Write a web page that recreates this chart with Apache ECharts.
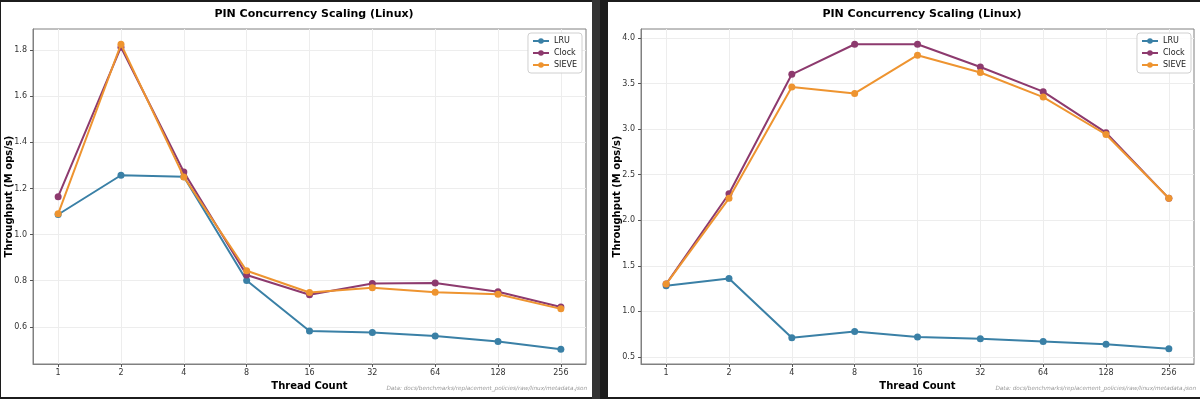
<!DOCTYPE html>
<html>
<head>
<meta charset="utf-8">
<script src="https://cdn.jsdelivr.net/npm/echarts@6/dist/echarts.min.js"></script>
<style>
  html, body { margin: 0; padding: 0; background: #1c1c1c; }
  #chart { width: 1200px; height: 399px; }
</style>
</head>
<body>
<div id="chart"></div>
<script>
// thread counts (x), plotted on a log2 position
const threads = [1, 2, 4, 8, 16, 32, 64, 128, 256];
const seriesNames = ['LRU', 'Clock', 'SIEVE'];

// left panel
const leftLru   = [1.087, 1.257, 1.251, 0.801, 0.582, 0.576, 0.560, 0.537, 0.503];
const leftClock = [1.164, 1.812, 1.271, 0.825, 0.739, 0.788, 0.790, 0.752, 0.686];
const leftSieve = [1.090, 1.825, 1.250, 0.843, 0.749, 0.770, 0.750, 0.741, 0.678];
const leftYTicks = [0.6, 0.8, 1.0, 1.2, 1.4, 1.6, 1.8];

// right panel
const rightLru   = [1.28, 1.36, 0.71, 0.78, 0.72, 0.70, 0.67, 0.64, 0.59];
const rightClock = [1.30, 2.29, 3.60, 3.93, 3.93, 3.68, 3.41, 2.96, 2.24];
const rightSieve = [1.30, 2.24, 3.46, 3.39, 3.81, 3.62, 3.35, 2.94, 2.24];
const rightYTicks = [0.5, 1.0, 1.5, 2.0, 2.5, 3.0, 3.5, 4.0];

const titleText = 'PIN Concurrency Scaling (Linux)';
const footText = 'Data: docs/benchmarks/replacement_policies/raw/linux/metadata.json';

const colors = ['#3a80a6', '#8d3a6e', '#ee9430'];
const font = 'DejaVu Sans';
const xPos = threads.map((t, i) => i);

const chart = echarts.init(document.getElementById('chart'));

function pts(values) {
    return values.map((v, i) => [xPos[i], v]);
}

function makeX(gridIndex) {
    return {
        type: 'value',
        gridIndex: gridIndex,
        min: -0.4,
        max: 8.4,
        name: 'Thread Count',
        nameLocation: 'middle',
        nameGap: 13,
        nameTextStyle: { fontFamily: font, fontWeight: 'bold', fontSize: 10, color: '#000' },
        axisLine: { show: true, onZero: false, lineStyle: { color: '#808080', width: 1 } },
        axisTick: { show: true, length: 3, customValues: xPos, lineStyle: { color: '#555' } },
        axisLabel: {
            customValues: xPos,
            formatter: v => String(threads[Math.round(v)]),
            fontFamily: font, fontSize: 8, color: '#333', margin: 5
        },
        splitLine: { show: true, lineStyle: { color: '#ededed', width: 1 } }
    };
}

function makeY(gridIndex, min, max, ticks) {
    return {
        type: 'value',
        gridIndex: gridIndex,
        min: min,
        max: max,
        name: 'Throughput (M ops/s)',
        nameLocation: 'middle',
        nameRotate: 90,
        nameGap: 19,
        nameMoveOverlap: false,
        nameTextStyle: { fontFamily: font, fontWeight: 'bold', fontSize: 10, color: '#000' },
        axisLine: { show: true, onZero: false, lineStyle: { color: '#808080', width: 1 } },
        axisTick: { show: true, length: 3, customValues: ticks, lineStyle: { color: '#555' } },
        axisLabel: {
            customValues: ticks,
            formatter: v => v.toFixed(1),
            fontFamily: font, fontSize: 8, color: '#333', margin: 6
        },
        splitLine: { show: true, lineStyle: { color: '#ededed', width: 1 } }
    };
}

function makeSeries(name, values, idx, gridIndex) {
    return {
        type: 'line',
        name: name,
        xAxisIndex: gridIndex,
        yAxisIndex: gridIndex,
        data: pts(values),
        symbol: 'circle',
        symbolSize: 7,
        showSymbol: true,
        animation: false,
        lineStyle: { width: 2, color: colors[idx] },
        itemStyle: { color: colors[idx] },
        z: 3 + idx
    };
}

function makeLegend(right) {
    return {
        data: seriesNames,
        orient: 'vertical',
        right: right,
        top: 33,
        itemWidth: 16,
        itemHeight: 7,
        itemGap: 4,
        padding: [4, 5, 4, 4],
        borderColor: '#d0d0d0',
        borderWidth: 1,
        borderRadius: 3,
        backgroundColor: 'rgba(255,255,255,0.85)',
        textStyle: { fontFamily: font, fontSize: 8, color: '#222' },
        selectedMode: false
    };
}

const option = {
    backgroundColor: '#1c1c1c',
    color: colors,
    title: [
        { text: titleText, left: 309, top: 4, textAlign: 'center',
          textStyle: { fontFamily: font, fontWeight: 'bold', fontSize: 11, color: '#000' } },
        { text: titleText, left: 917, top: 4, textAlign: 'center',
          textStyle: { fontFamily: font, fontWeight: 'bold', fontSize: 11, color: '#000' } }
    ],
    legend: [makeLegend(1200 - 582), makeLegend(1200 - 1191)],
    grid: [
        { left: 33, top: 29, width: 553, height: 335, show: true, borderColor: '#808080', borderWidth: 1, backgroundColor: '#fff' },
        { left: 641, top: 29, width: 553, height: 335, show: true, borderColor: '#808080', borderWidth: 1, backgroundColor: '#fff' }
    ],
    xAxis: [makeX(0), makeX(1)],
    yAxis: [makeY(0, 0.439, 1.891, leftYTicks), makeY(1, 0.423, 4.097, rightYTicks)],
    graphic: [
        { type: 'rect', shape: { x: 1, y: 2, width: 591, height: 395 }, style: { fill: '#fff' }, z: -10, silent: true },
        { type: 'rect', shape: { x: 592, y: 0, width: 8, height: 399 }, style: { fill: '#333' }, z: -10, silent: true },
        { type: 'rect', shape: { x: 608, y: 2, width: 592, height: 395 }, style: { fill: '#fff' }, z: -10, silent: true },
        { type: 'text', right: 1200 - 587, top: 386,
          style: { text: footText, fontFamily: font, fontSize: 5.7, fontStyle: 'italic', fill: '#999' } },
        { type: 'text', right: 4, top: 386,
          style: { text: footText, fontFamily: font, fontSize: 5.7, fontStyle: 'italic', fill: '#999' } }
    ],
    series: [
        makeSeries('LRU', leftLru, 0, 0),
        makeSeries('Clock', leftClock, 1, 0),
        makeSeries('SIEVE', leftSieve, 2, 0),
        makeSeries('LRU', rightLru, 0, 1),
        makeSeries('Clock', rightClock, 1, 1),
        makeSeries('SIEVE', rightSieve, 2, 1)
    ]
};

chart.setOption(option);
</script>
</body>
</html>
